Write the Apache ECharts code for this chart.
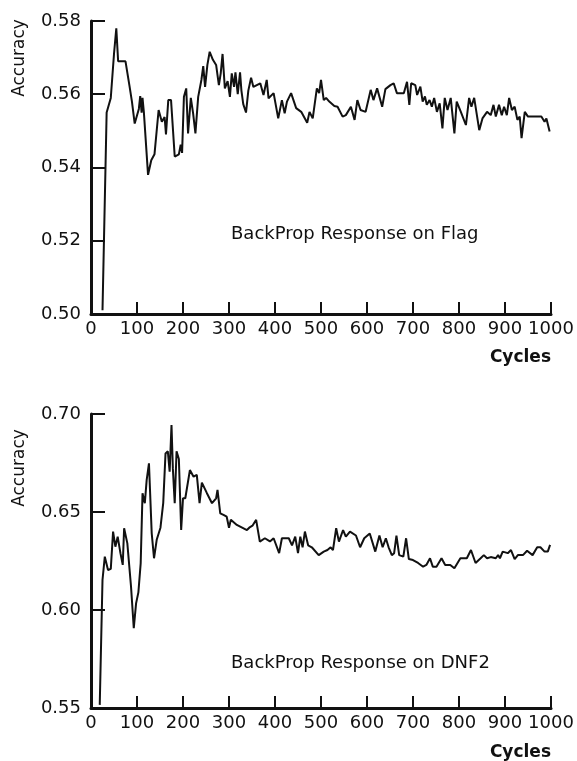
<!DOCTYPE html>
<html>
<head>
<meta charset="utf-8">
<script src="https://cdn.jsdelivr.net/npm/echarts@6/dist/echarts.min.js"></script>
<style>html,body{margin:0;padding:0;background:#fff}#c{width:577px;height:761px}</style>
</head>
<body>
<div id="c"></div>
<script>
var flagCycles = [25,34,43,50,55,59,75,84,89,95,104,107,110,112,115,124,131,138,147,154,160,163,168,174,182,191,195,198,202,207,211,217,222,227,233,240,244,248,253,258,265,272,278,282,286,291,297,302,306,311,314,319,324,327,331,337,342,348,353,357,368,375,382,386,397,407,415,421,426,435,446,457,470,475,482,491,496,500,506,511,518,529,536,547,554,565,573,579,586,597,608,614,622,633,640,651,658,665,680,687,692,696,705,709,716,721,726,730,736,741,746,752,758,764,769,775,782,790,795,804,815,822,827,833,844,851,861,869,875,880,887,893,898,904,909,915,921,927,932,936,943,950,979,986,990,997];
var flagAcc = [0.501,0.555,0.559,0.571,0.578,0.569,0.569,0.562,0.558,0.552,0.556,0.5595,0.555,0.559,0.555,0.538,0.542,0.5436,0.5557,0.5525,0.5538,0.549,0.5584,0.5584,0.543,0.5436,0.5462,0.544,0.5593,0.5616,0.5493,0.559,0.5548,0.5493,0.5593,0.5639,0.5677,0.562,0.568,0.5716,0.5694,0.568,0.5625,0.5657,0.571,0.5616,0.5636,0.5593,0.5657,0.562,0.566,0.560,0.566,0.561,0.5573,0.555,0.561,0.5645,0.562,0.562,0.563,0.5598,0.5639,0.5589,0.5603,0.5534,0.5584,0.5548,0.558,0.5603,0.5562,0.5552,0.5522,0.5552,0.5534,0.5616,0.5603,0.5639,0.5584,0.559,0.558,0.5568,0.5566,0.5539,0.5543,0.5566,0.553,0.5584,0.5557,0.5552,0.5612,0.5584,0.5616,0.5566,0.5614,0.5625,0.563,0.5603,0.5603,0.5634,0.5571,0.563,0.5625,0.5598,0.5621,0.558,0.5594,0.5571,0.5584,0.5566,0.559,0.5552,0.5575,0.5507,0.559,0.5557,0.559,0.5493,0.558,0.5552,0.5516,0.559,0.5566,0.559,0.5502,0.5534,0.5552,0.5543,0.5571,0.5539,0.5571,0.5543,0.5566,0.5543,0.559,0.5557,0.5566,0.553,0.5539,0.548,0.5552,0.5539,0.5539,0.5525,0.5534,0.5498];

var dnfCycles = [19,25,30,37,43,48,53,58,64,69,72,79,87,93,98,103,108,112,117,121,126,132,137,143,151,157,162,167,171,175,178,182,186,191,196,200,205,215,223,230,236,241,252,263,272,275,281,288,295,300,304,317,339,344,351,359,367,378,389,397,409,415,430,437,444,450,455,460,465,472,480,495,506,514,521,526,533,539,548,554,563,576,585,594,606,618,627,634,641,647,654,659,664,670,679,685,691,700,711,722,729,737,743,751,762,770,781,790,803,817,826,836,847,854,861,869,880,885,889,895,906,913,921,928,939,948,960,970,977,986,993,998];
var dnfAcc = [0.5516,0.6153,0.6272,0.6204,0.621,0.640,0.6323,0.6374,0.629,0.623,0.6417,0.634,0.612,0.5907,0.6034,0.609,0.6238,0.6596,0.6545,0.6663,0.6748,0.6391,0.6264,0.636,0.642,0.6545,0.6799,0.681,0.6706,0.6944,0.672,0.6545,0.681,0.677,0.6408,0.657,0.657,0.6714,0.668,0.6689,0.6545,0.665,0.6596,0.6545,0.657,0.6613,0.6493,0.6485,0.6476,0.642,0.646,0.6434,0.6408,0.642,0.643,0.646,0.6349,0.6366,0.635,0.6366,0.629,0.6366,0.6366,0.633,0.6374,0.629,0.6374,0.632,0.640,0.633,0.632,0.628,0.6298,0.6306,0.632,0.6306,0.6417,0.6349,0.6408,0.6374,0.640,0.638,0.632,0.6366,0.639,0.6298,0.638,0.632,0.6366,0.632,0.628,0.629,0.638,0.628,0.6272,0.6366,0.626,0.6255,0.624,0.6221,0.623,0.6264,0.6221,0.6221,0.6264,0.623,0.623,0.6213,0.6264,0.6264,0.6306,0.624,0.6264,0.628,0.6264,0.627,0.6264,0.628,0.6264,0.6298,0.629,0.6306,0.626,0.628,0.628,0.6302,0.628,0.632,0.632,0.6298,0.6298,0.6332];

var xTicks = ['0','100','200','300','400','500','600','700','800','900','1000'];
var flagTicks = ['0.50','0.52','0.54','0.56','0.58'];
var dnfTicks = ['0.55','0.60','0.65','0.70'];

function pair(xs, ys){ return xs.map(function(x,i){ return [x, ys[i]]; }); }

var FONT = 'DejaVu Sans';
function xAxisCfg(idx){
  return {
    type:'value', gridIndex: idx, min:0, max:1000, interval:100,
    axisLine:{show:true, onZero:false, lineStyle:{color:'#111', width:3}},
    axisTick:{show:true, inside:true, length:12, lineStyle:{color:'#111', width:2}},
    axisLabel:{color:'#111', fontFamily:FONT, fontSize:18, margin:6,
      formatter:function(v){ return xTicks[Math.round(v/100)]; }},
    splitLine:{show:false}
  };
}
function yAxisCfg(idx, min, max, step, labels){
  return {
    type:'value', gridIndex: idx, min:min, max:max, interval:step,
    axisLine:{show:true, lineStyle:{color:'#111', width:3}},
    axisTick:{show:true, inside:true, length:14, lineStyle:{color:'#111', width:2}},
    axisLabel:{color:'#111', fontFamily:FONT, fontSize:18, margin:10,
      formatter:function(v){ return labels[Math.round((v-min)/step)]; }},
    splitLine:{show:false}
  };
}
function txt(x, y, s, opts){
  opts = opts || {};
  return {type:'text', x:x, y:y, rotation: opts.rot || 0, silent:true,
    style:{text:s, fill:'#111', font:(opts.bold?'bold ':'') + (opts.size||18) + 'px "' + FONT + '"',
      textAlign: opts.align || 'left', textVerticalAlign:'middle'}};
}

var chart = echarts.init(document.getElementById('c'), null, {renderer:'canvas'});
chart.setOption({
  animation:false,
  backgroundColor:'#fff',
  grid:[
    {left:91, top:21, width:460, height:293},
    {left:91, top:414, width:460, height:294}
  ],
  xAxis:[xAxisCfg(0), xAxisCfg(1)],
  yAxis:[yAxisCfg(0, 0.50, 0.58, 0.02, flagTicks), yAxisCfg(1, 0.55, 0.70, 0.05, dnfTicks)],
  series:[
    {type:'line', xAxisIndex:0, yAxisIndex:0, data:pair(flagCycles, flagAcc), showSymbol:false,
      lineStyle:{color:'#111', width:2}},
    {type:'line', xAxisIndex:1, yAxisIndex:1, data:pair(dnfCycles, dnfAcc), showSymbol:false,
      lineStyle:{color:'#111', width:2}}
  ],
  graphic:[
    txt(231, 234, 'BackProp Response on Flag', {size:18}),
    txt(231, 663, 'BackProp Response on DNF2', {size:18}),
    txt(551, 358, 'Cycles', {bold:true, size:17, align:'right'}),
    txt(551, 753, 'Cycles', {bold:true, size:17, align:'right'}),
    txt(20, 58, 'Accuracy', {rot:Math.PI/2, align:'center', size:17}),
    txt(20, 468, 'Accuracy', {rot:Math.PI/2, align:'center', size:17})
  ]
});
</script>
</body>
</html>
